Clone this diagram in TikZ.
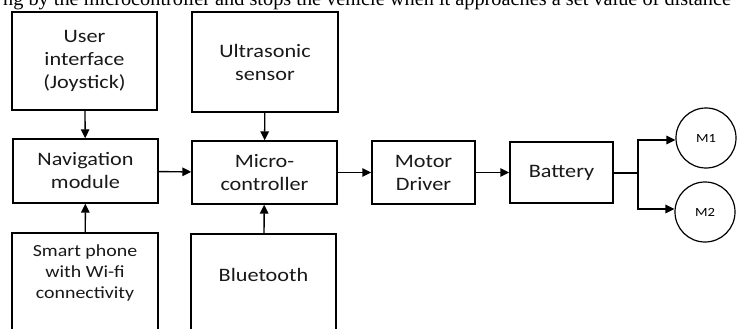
\documentclass[tikz,border=0pt]{standalone}
\usepackage{fontspec}
\setmainfont{Carlito}[FakeStretch=1.17]
\newfontfamily\bodyserif{Liberation Serif}
\usetikzlibrary{arrows.meta}

\tikzset{
  blk/.style={draw=black, line width=1.4pt, fill=white, inner sep=0pt, align=center,
              font=\fontsize{19}{23}\selectfont, text=black!90},
  motor/.style={draw=black, line width=1.2pt, circle, minimum size=60pt, inner sep=0pt,
                font=\fontsize{12.5}{15}\selectfont},
  lbl/.style={align=center, inner sep=0pt, text=black!90},
  conn/.style={line width=1.4pt, -{Triangle[length=9pt,width=8.5pt]}},
  wire/.style={line width=1.4pt}
}

\begin{document}
\begin{tikzpicture}[x=1pt, y=-1pt]
  \useasboundingbox (0,0) rectangle (737,329);
  \clip (0,0) rectangle (737,329);

  % line of running text from the page, cut at the top edge
  \node[anchor=base west, inner sep=0pt, font=\bodyserif\fontsize{20.3}{24}\selectfont]
    (pagetext) at (3,5.5) {ng by the microcontroller and stops the vehicle when it approaches a set value of distance};

  % input blocks
  \node[blk, minimum width=145pt, minimum height=98pt] (ui) at (84.5,61)
    {User\\interface\\(Joystick)};
  \node[blk, minimum width=146pt, minimum height=100pt] (us) at (265,62)
    {Ultrasonic\\sensor};

  % middle row
  \node[blk, minimum width=145pt, minimum height=64pt] (nav) at (85.5,171)
    {Navigation\\module};
  \node[blk, minimum width=145pt, minimum height=63pt] (mc) at (264.5,172.5)
    {Micro-\\controller};
  \node[blk, minimum width=103pt, minimum height=63pt] (md) at (423.5,172.5)
    {Motor\\Driver};
  \node[blk, minimum width=103pt, minimum height=61pt] (bat) at (561.5,172.5)
    {Battery};

  % lower blocks, running past the bottom edge
  \node[blk, minimum width=146pt, minimum height=120pt] (sp) at (85,293) {};
  \node[lbl, font=\fontsize{17}{21}\selectfont] (sptext) at (85,273)
    {Smart phone\\with Wi-fi\\connectivity};
  \node[blk, minimum width=145pt, minimum height=120pt] (bt) at (263.5,294) {};
  \node[lbl, font=\fontsize{19}{23}\selectfont] (bttext) at (263.5,275) {Bluetooth};

  % motors
  \node[motor] (m1) at (706,138) {M1};
  \node[motor] (m2) at (705,212) {M2};

  % connectors
  \draw[conn] (ui) -- (nav);
  \draw[conn] (sp) -- (nav);
  \draw[conn] (us) -- (mc);
  \draw[conn] (bt) -- (mc);
  \draw[conn] (nav) -- (mc);
  \draw[conn] (mc) -- (md);
  \draw[conn] (md) -- (bat);

  \coordinate (br) at (638,173);
  \draw[wire] (bat.east |- br) -- (br);
  \draw[conn] (br) |- (m1.west |- 0,140);
  \draw[conn] (br) |- (m2.west |- 0,209);
\end{tikzpicture}
\end{document}
